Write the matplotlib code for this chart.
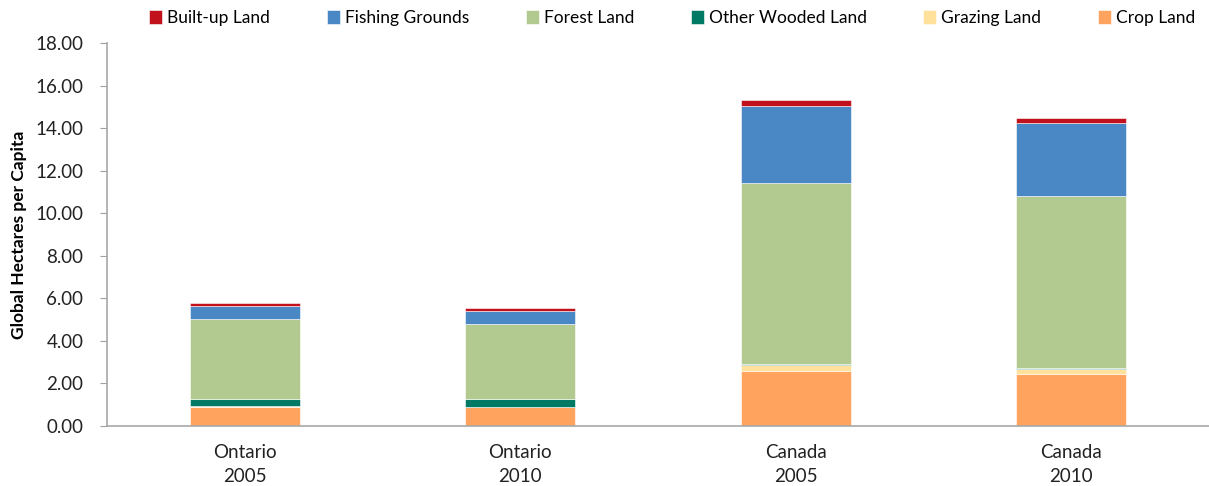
import matplotlib
matplotlib.use("Agg")
import matplotlib.pyplot as plt
import numpy as np

plt.rcParams["font.family"] = ["Lato", "DejaVu Sans"]

categories = ["Ontario\n2005", "Ontario\n2010", "Canada\n2005", "Canada\n2010"]

# stacked bottom -> top
crop_land = [0.91, 0.88, 2.60, 2.46]
grazing_land = [0.02, 0.02, 0.27, 0.23]
other_wooded = [0.33, 0.35, 0.02, 0.02]
forest_land = [3.77, 3.56, 8.51, 8.08]
fishing_grounds = [0.62, 0.61, 3.65, 3.46]
built_up = [0.14, 0.14, 0.25, 0.21]

series = [
    ("Crop Land", crop_land, "#FFA35E"),
    ("Grazing Land", grazing_land, "#FFE19B"),
    ("Other Wooded Land", other_wooded, "#007A65"),
    ("Forest Land", forest_land, "#B2CA90"),
    ("Fishing Grounds", fishing_grounds, "#4A87C5"),
    ("Built-up Land", built_up, "#C0111C"),
]

fig = plt.figure(figsize=(12.09, 4.86), dpi=100)
ax = fig.add_axes([0.0885, 0.1235, 0.9115, 0.788])

x = np.arange(len(categories))
bottom = np.zeros(len(categories))
handles = []
for name, vals, color in series:
    h = ax.bar(x, vals, width=0.4, bottom=bottom, color=color, label=name,
               edgecolor="white", linewidth=0.4)
    handles.append(h)
    bottom += np.array(vals)

ax.set_xlim(-0.5, 3.5)
ax.set_ylim(0, 18)
ticks = np.arange(0, 18.01, 2)
ax.set_yticks(ticks)
ax.set_yticklabels([f"{v:.2f}" for v in ticks], fontsize=13.5, color="#222222")
ax.set_xticks(x)
ax.set_xticklabels(categories, fontsize=13.5, color="#222222", linespacing=1.5)
ax.tick_params(axis="x", length=0, pad=13)
ax.tick_params(axis="y", length=5, color="#A0A0A0", pad=12)
ax.set_ylabel("Global Hectares per Capita", fontsize=12.5, fontweight="bold", labelpad=6)

for s in ["top", "right"]:
    ax.spines[s].set_visible(False)
for s in ["left", "bottom"]:
    ax.spines[s].set_color("#A8A8A8")
    ax.spines[s].set_linewidth(1.2)

fig.legend(handles[::-1], [s[0] for s in series[::-1]], loc="center",
           bbox_to_anchor=(0.556, 0.963), ncol=6, frameon=False, fontsize=12.5,
           handlelength=0.75, handleheight=0.9, handletextpad=0.3, columnspacing=3.25)

fig.savefig("out.png", dpi=100)
